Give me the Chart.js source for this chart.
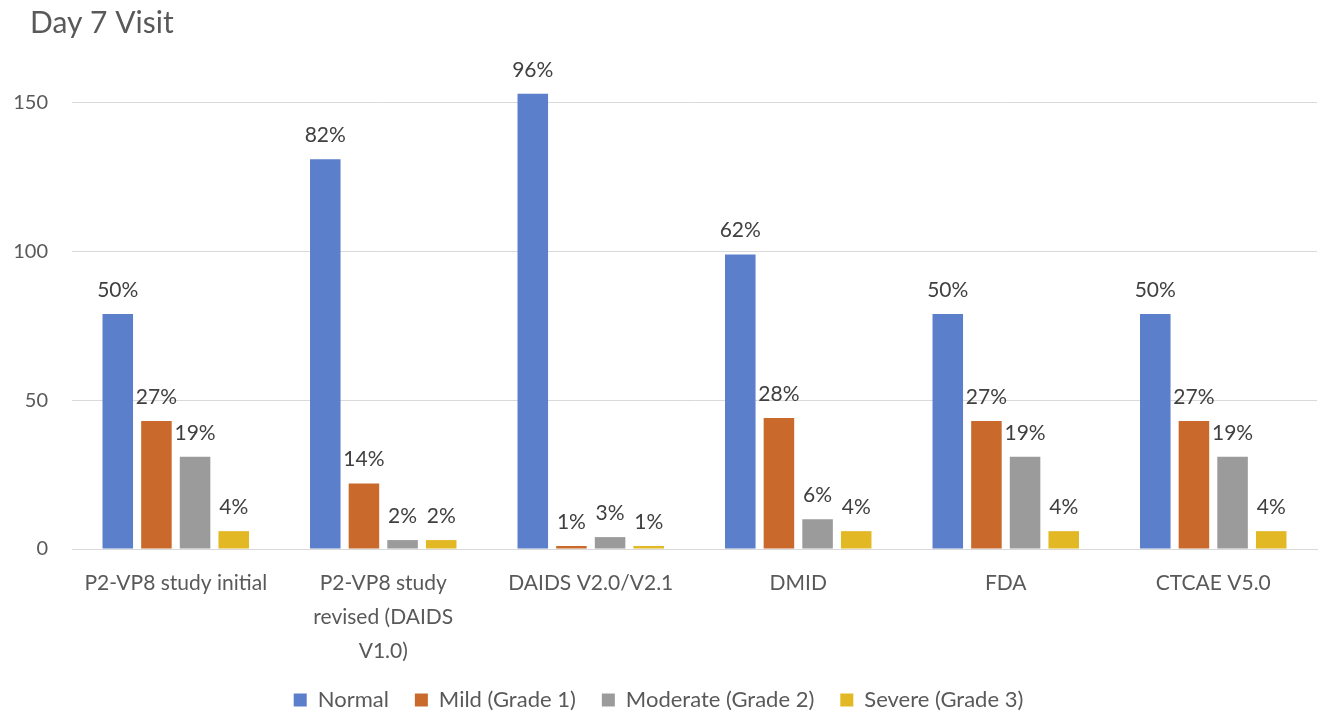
<!DOCTYPE html>
<html>
<head>
<meta charset="utf-8">
<script src="https://cdn.jsdelivr.net/npm/chart.js@4/dist/chart.umd.min.js"></script>
<style>
  html, body { margin: 0; padding: 0; background: #ffffff; }
  #wrap { width: 1319px; height: 713px; position: relative; }
</style>
</head>
<body>
<div id="wrap"><canvas id="c" width="1319" height="713"></canvas></div>
<script>
const chartTitle = 'Day 7 Visit';
const categories = [
  'P2-VP8 study initial',
  ['P2-VP8 study', 'revised (DAIDS', 'V1.0)'],
  'DAIDS V2.0/V2.1',
  'DMID',
  'FDA',
  'CTCAE V5.0'
];
const seriesNames = ['Normal', 'Mild (Grade 1)', 'Moderate (Grade 2)', 'Severe (Grade 3)'];
const normalValues   = [79, 131, 153, 99, 79, 79];
const mildValues     = [43, 22, 1, 44, 43, 43];
const moderateValues = [31, 3, 4, 10, 31, 31];
const severeValues   = [6, 3, 1, 6, 6, 6];
const normalLabels   = ['50%', '82%', '96%', '62%', '50%', '50%'];
const mildLabels     = ['27%', '14%', '1%', '28%', '27%', '27%'];
const moderateLabels = ['19%', '2%', '3%', '6%', '19%', '19%'];
const severeLabels   = ['4%', '2%', '1%', '4%', '4%', '4%'];
const yTicks = [0, 50, 100, 150];

const colors = ['#5B7FCA', '#C96A2C', '#9B9B9B', '#E2B825'];
const FONT = 'Lato, Carlito, Calibri, "Open Sans", sans-serif';

const valueArrays = [normalValues, mildValues, moderateValues, severeValues];
const labelArrays = [normalLabels, mildLabels, moderateLabels, severeLabels];

const titlePlugin = {
  id: 'leftTitle',
  afterDraw(chart) {
    const ctx = chart.ctx;
    ctx.save();
    ctx.font = '30px ' + FONT;
    ctx.fillStyle = '#595959';
    ctx.textAlign = 'left';
    ctx.textBaseline = 'middle';
    ctx.fillText(chartTitle, 30, 23);
    ctx.restore();
  }
};

const barLabelPlugin = {
  id: 'barLabels',
  afterDatasetsDraw(chart) {
    const ctx = chart.ctx;
    ctx.save();
    ctx.font = '21px ' + FONT;
    ctx.fillStyle = '#404040';
    ctx.textAlign = 'center';
    ctx.textBaseline = 'middle';
    chart.data.datasets.forEach((ds, di) => {
      const meta = chart.getDatasetMeta(di);
      meta.data.forEach((bar, i) => {
        ctx.fillText(labelArrays[di][i], bar.x, bar.y - 24);
      });
    });
    ctx.restore();
  }
};

new Chart(document.getElementById('c'), {
  type: 'bar',
  data: {
    labels: categories,
    datasets: seriesNames.map((name, k) => ({
      label: name,
      data: valueArrays[k],
      backgroundColor: colors[k],
      borderColor: colors[k],
      borderWidth: 0,
      barPercentage: 0.79,
      categoryPercentage: 0.745
    }))
  },
  options: {
    responsive: false,
    animation: false,
    layout: { padding: { left: 0, right: 2, top: 73, bottom: -8 } },
    plugins: {
      title: { display: false },
      legend: {
        position: 'bottom',
        labels: {
          color: '#595959',
          font: { family: FONT, size: 22 },
          boxWidth: 13,
          boxHeight: 13,
          padding: 26
        }
      },
      tooltip: { enabled: false }
    },
    scales: {
      x: {
        grid: { display: false, drawTicks: false },
        border: { display: true, color: '#d9d9d9', width: 1 },
        ticks: {
          color: '#595959',
          font: { family: FONT, size: 21, lineHeight: 1.62 },
          padding: 17,
          maxRotation: 0,
          autoSkip: false
        },
        afterFit(scale) { scale.height = 114; }
      },
      y: {
        min: 0,
        max: 160,
        grid: { color: '#d9d9d9', drawTicks: false },
        border: { display: false },
        ticks: {
          color: '#595959',
          font: { family: FONT, size: 20 },
          padding: 24,
          stepSize: 50
        },
        afterBuildTicks(scale) { scale.ticks = yTicks.map(v => ({ value: v })); },
        afterFit(scale) { scale.width = 72; }
      }
    }
  },
  plugins: [barLabelPlugin, titlePlugin]
});
</script>
</body>
</html>
